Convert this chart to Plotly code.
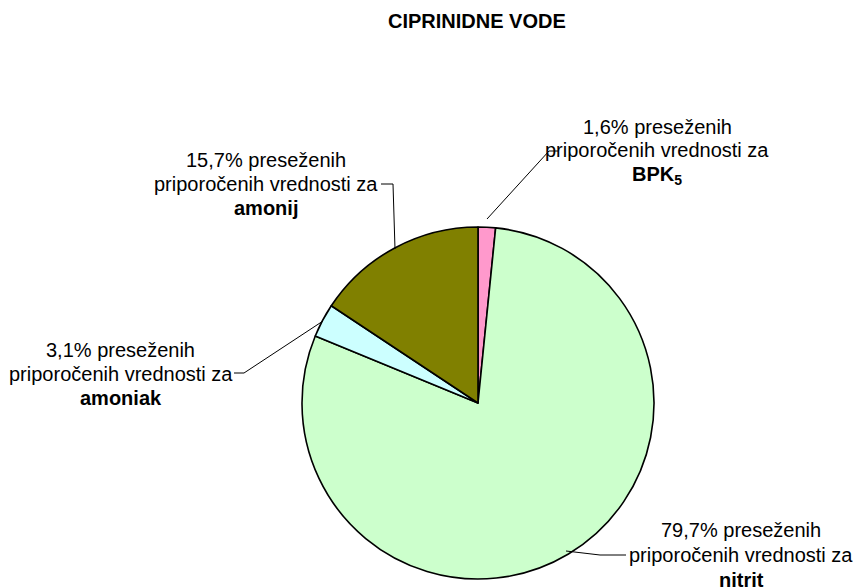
import plotly.graph_objects as go

W, H = 854, 587

# ---- data ----
params = ["BPK<sub>5</sub>", "nitrit", "amoniak", "amonij"]
shares = [1.6, 79.7, 3.1, 15.7]
colors = ["#FF99CC", "#CCFFCC", "#CCFFFF", "#808000"]
title_text = "CIPRINIDNE VODE"
line2_text = "priporočenih vrednosti za"

FONT = "Liberation Sans, Arial, sans-serif"
FS = 20

def px(x):
    return x / W

def py(y):
    return 1 - y / H

# pie geometry (pixels)
cx, cy, r = 478, 403, 176

fig = go.Figure(go.Pie(
    values=shares,
    labels=[p.replace("<sub>", "").replace("</sub>", "") for p in params],
    marker=dict(colors=colors, line=dict(color="black", width=1.6)),
    sort=False,
    direction="clockwise",
    rotation=0,
    textinfo="none",
    hoverinfo="label+percent",
    domain=dict(x=[px(cx - r), px(cx + r)], y=[py(cy + r), py(cy - r)]),
    showlegend=False,
))

# label placement: (center x, y of the three lines) in pixels
label_pos = [
    (657, [127, 150, 175]),   # BPK5
    (741, [530, 555, 580]),   # nitrit
    (121, [350, 374, 398]),   # amoniak
    (266, [160, 184, 208]),   # amonij
]
leaders = [
    [(487, 219), (549, 151), (558, 151)],
    [(566, 551), (600, 555), (626, 555)],
    [(323, 321), (244, 373), (234, 373)],
    [(395, 249), (393, 184), (381, 184)],
]

annotations = []
for name, v, (lx, ys) in zip(params, shares, label_pos):
    texts = [f"{v:.1f}".replace(".", ",") + "% preseženih", line2_text, f"<b>{name}</b>"]
    for t, y in zip(texts, ys):
        annotations.append(dict(
            text=t, x=px(lx), y=py(y), xref="paper", yref="paper",
            xanchor="center", yanchor="middle", showarrow=False,
            font=dict(family=FONT, size=FS, color="black"),
        ))

annotations.append(dict(
    text=f"<b>{title_text}</b>", x=px(477), y=py(21), xref="paper", yref="paper",
    xanchor="center", yanchor="middle", showarrow=False,
    font=dict(family=FONT, size=FS, color="black"),
))

shapes = []
for pts in leaders:
    path = "M " + " L ".join(f"{px(x)},{py(y)}" for x, y in pts)
    shapes.append(dict(type="path", path=path, xref="paper", yref="paper",
                       line=dict(color="black", width=1)))

fig.update_layout(
    width=W, height=H,
    margin=dict(l=0, r=0, t=0, b=0),
    paper_bgcolor="white", plot_bgcolor="white",
    annotations=annotations, shapes=shapes,
    font=dict(family=FONT),
)

fig.write_html(
    "out.html",
    config={"displayModeBar": False},
    post_script="document.body.style.margin='0';document.body.style.overflow='hidden';",
)
